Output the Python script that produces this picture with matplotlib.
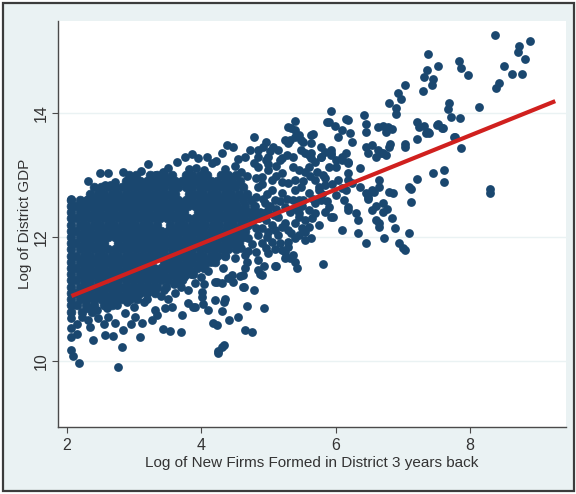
#!/usr/bin/env python3
"""
plot.py - district GDP vs. new firms formed three years earlier (log-log),
scatter of districts with the linear fit drawn over it.

Output: out.png
"""

import matplotlib
matplotlib.use("Agg")
import matplotlib.pyplot as plt
from matplotlib.patches import Rectangle
import numpy as np

# ---------------------------------------------------------------------------
# Data (log new firms, log district GDP)
# ---------------------------------------------------------------------------

# the solid core of the cloud, one list of x per row of log GDP
core_row_gdp = [13.0, 12.9, 12.8, 12.7, 12.6, 12.5, 12.4, 12.3, 12.2, 12.1, 12.0,
                11.9, 11.8, 11.7, 11.6, 11.5, 11.4, 11.3, 11.2, 11.1, 11.0, 10.9, 10.8]
core_row_firms = [
    [2.93, 3.03, 3.24, 3.35, 3.45, 3.56, 3.77, 3.87, 3.98, 4.08, 4.29, 4.40, 4.52],
    [2.88, 2.98, 3.09, 3.19, 3.30, 3.40, 3.51, 3.61, 3.72, 3.82, 3.93, 4.03, 4.14, 4.24, 4.35, 4.46, 4.58],
    [2.40, 2.51, 2.61, 2.72, 2.82, 2.93, 3.03, 3.14, 3.24, 3.35, 3.45, 3.56, 3.66, 3.77, 3.87, 3.98,
     4.08, 4.19, 4.29, 4.40, 4.50, 4.62],
    [2.35, 2.46, 2.56, 2.67, 2.77, 2.88, 2.98, 3.09, 3.19, 3.30, 3.40, 3.51, 3.61, 3.82, 3.93,
     4.03, 4.14, 4.24, 4.35, 4.45, 4.56, 4.68],
    [2.07, 2.19, 2.30, 2.40, 2.51, 2.61, 2.72, 2.82, 2.93, 3.03, 3.14, 3.24, 3.35, 3.45, 3.56, 3.66,
     3.77, 3.87, 3.98, 4.08, 4.19, 4.29, 4.40, 4.50, 4.62, 4.74],
    [2.07, 2.14, 2.24, 2.35, 2.45, 2.56, 2.66, 2.77, 2.87, 2.97, 3.08, 3.18, 3.29, 3.39, 3.49, 3.60,
     3.70, 3.81, 3.91, 4.01, 4.12, 4.22, 4.33, 4.43, 4.54, 4.66, 4.78],
    [2.07, 2.19, 2.29, 2.40, 2.50, 2.61, 2.71, 2.82, 2.92, 3.02, 3.13, 3.23, 3.34, 3.44, 3.54, 3.65,
     3.75, 3.96, 4.06, 4.17, 4.27, 4.38, 4.48, 4.59, 4.70, 4.80],
    [2.07, 2.14, 2.24, 2.35, 2.45, 2.56, 2.66, 2.77, 2.87, 2.97, 3.08, 3.18, 3.29, 3.39, 3.49, 3.60,
     3.70, 3.81, 3.91, 4.01, 4.12, 4.22, 4.33, 4.43, 4.54, 4.64, 4.76],
    [2.07, 2.19, 2.29, 2.40, 2.50, 2.61, 2.71, 2.82, 2.92, 3.02, 3.13, 3.23, 3.34, 3.54, 3.65,
     3.75, 3.86, 3.96, 4.06, 4.17, 4.27, 4.38, 4.48, 4.59, 4.70],
    [2.07, 2.14, 2.25, 2.35, 2.46, 2.56, 2.67, 2.77, 2.88, 2.98, 3.09, 3.19, 3.30, 3.40, 3.51, 3.61,
     3.72, 3.82, 3.93, 4.03, 4.14, 4.24, 4.35, 4.45, 4.56, 4.66],
    [2.07, 2.19, 2.30, 2.40, 2.51, 2.61, 2.72, 2.82, 2.93, 3.03, 3.14, 3.24, 3.35, 3.45, 3.56, 3.66,
     3.77, 3.87, 3.98, 4.08, 4.19, 4.29, 4.40, 4.50, 4.62],
    [2.07, 2.14, 2.25, 2.35, 2.46, 2.56, 2.77, 2.88, 2.98, 3.09, 3.19, 3.30, 3.40, 3.51, 3.61,
     3.72, 3.82, 3.93, 4.03, 4.14, 4.24, 4.35, 4.46, 4.57],
    [2.07, 2.19, 2.30, 2.40, 2.51, 2.61, 2.72, 2.82, 2.93, 3.03, 3.14, 3.24, 3.35, 3.45, 3.56, 3.66,
     3.77, 3.87, 3.98, 4.08, 4.19, 4.29, 4.40, 4.52],
    [2.07, 2.14, 2.25, 2.35, 2.46, 2.56, 2.67, 2.77, 2.88, 2.98, 3.09, 3.19, 3.30, 3.40, 3.51, 3.61,
     3.72, 3.82, 3.93, 4.03, 4.14, 4.24, 4.36],
    [2.07, 2.19, 2.30, 2.40, 2.51, 2.61, 2.72, 2.82, 2.93, 3.03, 3.14, 3.24, 3.45, 3.56, 3.66,
     3.77, 3.87, 3.98, 4.08, 4.20],
    [2.07, 2.14, 2.25, 2.35, 2.46, 2.56, 2.67, 2.77, 2.88, 2.98, 3.09, 3.19, 3.30, 3.40, 3.51, 3.61,
     3.72, 3.82, 3.94, 4.05],
    [2.07, 2.19, 2.30, 2.40, 2.51, 2.61, 2.72, 2.82, 2.93, 3.03, 3.14, 3.24, 3.35, 3.45, 3.56, 3.66,
     3.77, 3.88],
    [2.07, 2.14, 2.25, 2.35, 2.46, 2.56, 2.67, 2.77, 2.88, 2.98, 3.09, 3.19, 3.30, 3.40, 3.51, 3.62, 3.72],
    [2.07, 2.19, 2.30, 2.40, 2.51, 2.61, 2.72, 2.82, 2.93, 3.03, 3.14, 3.24, 3.35, 3.47],
    [2.07, 2.14, 2.25, 2.35, 2.46, 2.56, 2.67, 2.77, 2.88, 2.98, 3.09, 3.20, 3.32],
    [2.07, 2.19, 2.30, 2.40, 2.51, 2.61, 2.72, 2.82, 2.94, 3.05],
    [2.07, 2.16, 2.28, 2.40, 2.55, 2.68],
    [2.07, 2.22, 2.37],
]

# fringe of the core, top and bottom
fringe_points = [
    (2.07, 12.62), (2.30, 12.60), (2.49, 12.56), (2.31, 12.90), (2.49, 13.03), (2.61, 13.03),
    (2.84, 13.05), (2.57, 12.84), (2.64, 12.84), (2.72, 12.89), (2.99, 12.89), (3.21, 13.18),
    (3.31, 13.00), (3.43, 13.05), (3.64, 13.21), (3.76, 13.29), (3.87, 13.33), (3.96, 13.27),
    (4.09, 13.29), (4.16, 13.19), (4.31, 13.35), (4.22, 13.22), (4.39, 13.48), (4.48, 13.45),
    (4.35, 13.10), (4.50, 13.15), (4.60, 13.05), (4.68, 12.98), (4.55, 13.25),
    (3.50, 13.12), (3.92, 13.12), (3.82, 13.10), (4.05, 13.08), (3.10, 13.06),
    (2.07, 10.69), (2.07, 10.53), (2.07, 10.39), (2.07, 10.18), (2.09, 10.08), (2.18, 9.97),
    (2.16, 10.44), (2.39, 10.34), (2.76, 9.90), (2.82, 10.23), (2.57, 10.42), (2.69, 10.40),
    (3.09, 10.39), (2.84, 10.50), (3.43, 10.52), (3.54, 10.48), (3.70, 10.47), (3.72, 10.74),
    (4.18, 10.61), (4.25, 10.13), (4.31, 10.23),
    (2.22, 10.71), (2.31, 10.66), (2.46, 10.69), (2.61, 10.71), (2.72, 10.61), (2.87, 10.77),
    (3.01, 10.71), (3.12, 10.61), (3.27, 10.66), (3.31, 10.82), (3.46, 10.85), (3.57, 10.87),
    (3.61, 11.10), (3.81, 10.94), (3.91, 10.87), (4.01, 11.03), (4.10, 10.82), (4.21, 10.98),
    (4.31, 11.26), (3.91, 11.26), (4.01, 11.11), (4.21, 11.27), (3.88, 10.87), (4.03, 10.92),
    (4.36, 11.00), (4.63, 11.19),
    (4.34, 10.95), (4.31, 10.81), (4.55, 10.71), (4.42, 10.66), (4.66, 10.50), (4.76, 10.47),
    (4.34, 10.26), (4.25, 10.16), (4.24, 10.58), (4.24, 11.27), (4.94, 10.85), (4.78, 11.15),
    (4.64, 11.19), (4.69, 10.89),
    (2.30, 10.85), (2.45, 10.82), (2.60, 10.85), (2.75, 10.90), (2.90, 10.95), (3.00, 10.88),
    (3.15, 10.95), (3.20, 11.00), (3.40, 11.05), (3.50, 11.00), (3.45, 11.15), (3.60, 11.25),
    (3.70, 11.20), (3.80, 11.15), (3.75, 11.35), (3.85, 11.40), (4.00, 11.35), (4.10, 11.45),
    (4.15, 11.60), (4.05, 11.25), (2.15, 10.60), (2.35, 10.55), (2.55, 10.60), (2.95, 10.60),
    (3.35, 10.75),
]

# looser middle part of the cloud
middle_points = [
    (4.79, 13.61), (4.96, 13.53), (5.07, 13.45), (5.25, 13.56), (4.66, 13.29), (4.78, 13.19),
    (4.99, 13.29), (5.18, 13.24), (4.85, 13.40),
    (5.39, 13.87), (5.34, 13.76), (5.30, 13.77), (5.40, 13.61), (5.49, 13.56), (5.64, 13.65),
    (5.40, 13.73), (5.45, 13.65), (5.66, 13.66), (5.51, 13.53), (5.33, 13.56), (5.15, 13.40),
    (5.21, 13.27), (5.28, 13.32), (5.36, 13.29), (5.55, 13.35), (5.63, 13.27), (5.70, 13.21),
    (5.78, 13.29), (5.85, 13.37), (5.93, 13.32), (6.00, 13.24), (6.10, 13.29), (6.19, 13.21),
    (6.37, 13.11), (5.30, 13.52), (5.49, 13.40), (5.64, 13.52), (5.60, 13.32), (5.79, 13.29),
    (5.94, 13.40), (5.90, 13.13), (6.09, 13.24), (6.19, 13.03), (6.15, 13.35),
    (5.87, 13.85), (5.99, 13.79), (6.16, 13.90), (6.09, 13.73), (6.04, 13.61), (6.22, 13.68),
    (6.24, 13.53), (5.94, 14.03), (5.90, 13.85), (6.18, 13.89), (6.42, 13.97), (6.46, 13.82),
    (6.45, 13.69), (6.45, 13.45), (6.49, 13.35), (6.60, 13.29), (6.55, 13.48), (6.63, 13.40),
    (6.67, 13.35), (6.75, 13.32), (6.79, 13.45),
    (4.85, 13.29), (4.96, 13.24), (4.85, 13.13), (5.00, 13.08), (4.91, 12.97), (5.06, 12.92),
    (5.21, 13.03), (5.36, 13.13), (5.45, 13.08), (5.30, 12.87), (5.40, 12.76), (5.21, 12.71),
    (5.10, 12.60), (5.25, 12.48), (5.36, 12.60), (5.00, 12.44), (5.15, 12.32), (4.96, 12.27),
    (5.25, 12.23), (4.81, 12.65), (4.85, 12.81), (5.06, 12.76),
    (6.18, 12.92), (6.25, 12.87), (6.10, 12.79), (6.00, 12.68), (6.12, 12.60), (5.96, 12.32),
    (6.18, 12.44), (6.34, 12.27), (6.55, 12.44), (6.64, 12.23), (6.70, 12.55), (6.48, 12.65),
    (6.64, 12.81),
    (5.81, 13.00), (5.70, 12.92), (5.85, 12.84), (5.75, 12.76), (5.60, 12.71), (5.51, 12.60),
    (5.70, 12.55), (5.60, 12.44), (5.45, 12.39), (5.55, 12.27), (5.40, 12.23),
    (5.40, 12.92), (5.49, 12.81), (5.45, 12.60), (5.75, 12.81), (5.79, 12.60), (6.04, 12.92),
    (6.15, 12.76), (6.19, 12.48), (6.30, 12.39), (5.90, 12.48), (5.70, 12.39), (5.60, 12.16),
    (5.45, 12.32), (5.34, 12.06), (5.55, 11.95), (5.30, 11.84), (6.45, 12.71), (6.54, 12.76),
    (5.60, 13.13), (6.00, 13.13), (6.19, 13.19), (5.78, 13.45), (5.64, 13.35), (5.94, 13.35),
    (4.70, 11.98), (4.85, 12.03), (5.00, 12.08), (5.15, 12.03), (5.30, 11.92), (5.45, 12.03),
    (5.55, 12.08), (4.55, 11.92), (4.66, 11.71), (4.81, 11.76), (4.96, 11.82), (5.21, 11.79),
    (5.36, 11.71), (4.51, 11.66), (4.46, 11.39), (4.33, 11.50), (4.69, 11.60), (4.85, 11.63),
    (5.25, 11.66), (5.40, 11.60), (5.21, 12.16), (5.06, 11.92), (4.36, 11.71),
    (5.64, 11.98), (5.25, 11.76), (5.33, 11.66), (5.00, 11.74), (5.18, 11.90), (5.40, 11.98),
    (4.66, 11.50), (4.63, 11.39), (4.40, 11.34), (4.48, 11.27), (4.58, 11.37), (4.88, 11.40),
    (4.93, 11.53), (5.10, 11.53), (4.91, 11.39), (4.85, 11.47), (5.81, 11.56), (5.43, 11.50),
    (5.12, 11.53),
    (4.90, 12.15), (4.75, 12.25), (4.88, 12.40), (4.95, 12.55), (5.05, 12.20), (4.80, 12.50),
    (4.82, 12.95), (4.90, 12.85), (4.98, 12.70), (4.92, 12.62), (5.02, 12.50), (5.12, 12.45),
    (5.08, 12.35), (4.86, 12.30), (4.94, 12.38), (5.18, 12.58), (5.28, 12.62), (5.32, 12.40),
    (5.20, 12.88), (5.12, 12.98), (5.00, 13.18), (5.12, 13.15), (4.92, 13.45), (5.02, 13.38),
    (4.72, 13.40), (4.82, 12.15), (4.98, 12.00), (5.10, 12.12), (5.30, 12.12), (5.40, 12.45),
    (5.50, 12.50), (5.52, 12.90), (5.62, 12.98), (5.55, 13.05), (5.72, 13.05), (5.66, 12.62),
    (5.80, 12.70), (5.88, 12.58), (5.95, 12.85), (5.85, 12.95), (5.50, 12.15), (5.65, 12.30),
    (5.75, 12.20), (5.85, 12.40), (4.75, 11.88), (4.90, 11.90), (5.10, 11.80), (4.70, 11.78),
    (4.60, 11.82),
]

# sparse districts at the high end
high_points = [
    (8.37, 15.26), (8.90, 15.15), (8.73, 15.08), (8.72, 14.98), (8.82, 14.87), (8.51, 14.76),
    (8.63, 14.63), (8.78, 14.63), (8.43, 14.48), (8.39, 14.40), (8.13, 14.10), (7.37, 14.95),
    (7.52, 14.76), (7.36, 14.69), (7.31, 14.58), (7.45, 14.55), (7.43, 14.45), (7.30, 14.35),
    (7.84, 14.84), (7.87, 14.73), (7.97, 14.61), (7.03, 14.45), (6.93, 14.32), (6.97, 14.23),
    (6.79, 14.16), (6.90, 14.08), (6.90, 13.98), (7.69, 14.16), (7.67, 14.06), (7.72, 13.94),
    (7.85, 13.92), (6.70, 13.79), (6.78, 13.77), (6.84, 13.74), (6.75, 13.69), (7.22, 13.85),
    (7.31, 13.79), (7.37, 13.69), (7.52, 13.82), (7.60, 13.76), (7.21, 13.58), (7.78, 13.61),
    (6.63, 13.77), (6.81, 13.50), (7.03, 13.50),
    (7.24, 13.77), (7.34, 13.68), (7.39, 13.68), (7.51, 13.81), (7.58, 13.76), (7.76, 13.61),
    (7.87, 13.44), (7.61, 13.08), (7.61, 12.89), (7.45, 13.03), (7.22, 12.94), (7.09, 12.81),
    (7.12, 12.78), (7.13, 12.56), (8.30, 12.77), (8.30, 12.71), (7.04, 13.45),
    (6.70, 13.35), (6.85, 12.71), (6.79, 12.73), (6.57, 12.73), (6.49, 12.61), (6.70, 12.40),
    (6.76, 12.45), (6.84, 12.31), (6.88, 12.15), (6.72, 11.98), (6.94, 11.90), (7.09, 12.06),
    (7.01, 11.82), (7.03, 11.79), (6.60, 12.27), (6.64, 12.16), (6.60, 12.50), (5.94, 12.32),
    (6.09, 12.11), (6.34, 12.06), (6.45, 11.90), (6.37, 12.81), (6.64, 12.92),
]

# linear fit as drawn (value at the first x, slope)
fit_x_range = [2.07, 9.27]
fit_y_at_start = 11.05
fit_slope = 0.436

x_ticks = [2, 4, 6, 8]
y_ticks = [10, 12, 14]
x_label = "Log of New Firms Formed in District 3 years back"
y_label = "Log of District GDP"


def main():
    plt.rcParams["font.family"] = ["Liberation Sans Narrow", "Liberation Sans", "DejaVu Sans"]

    core_x = []
    core_y = []
    for row_y, row_x in zip(core_row_gdp, core_row_firms):
        core_x.extend(row_x)
        core_y.extend([row_y] * len(row_x))

    rest = fringe_points + middle_points + high_points
    rest_x = np.array([p[0] for p in rest])
    rest_y = np.array([p[1] for p in rest])

    W, H = 576, 494
    fig = plt.figure(figsize=(W / 100, H / 100), dpi=100)
    fig.patch.set_facecolor("white")

    # stata-like graph region with a frame round it
    fig.patches.append(Rectangle((3 / W, 3 / H), 571 / W, 488 / H, transform=fig.transFigure,
                                 facecolor="#eaf2f3", edgecolor="#3c3c3c", lw=1.6, zorder=-5))

    ax = fig.add_axes([58 / W, (H - 427) / H, (566 - 58) / W, (427 - 21) / H])
    ax.set_facecolor("white")

    navy = "#1a476f"
    ax.scatter(core_x, core_y, s=40, color=navy, edgecolors=navy, linewidths=0.5, zorder=2)
    ax.scatter(rest_x, rest_y, s=40, color=navy, linewidths=0, zorder=2)

    fx = np.array(fit_x_range)
    fy = fit_y_at_start + fit_slope * (fx - fit_x_range[0])
    ax.plot(fx, fy, color="#d0201e", lw=3.0, solid_capstyle="butt", zorder=3)

    ax.set_xlim(1.87, 9.43)
    ax.set_ylim(8.94, 15.48)
    ax.set_xticks(x_ticks)
    ax.set_yticks(y_ticks)
    ax.yaxis.grid(True, color="#eaf2f3", lw=1.0)
    ax.set_axisbelow(True)

    for side in ("top", "right"):
        ax.spines[side].set_visible(False)
    for side in ("left", "bottom"):
        ax.spines[side].set_color("#4a4a4a")
        ax.spines[side].set_linewidth(1.0)

    ax.tick_params(axis="both", length=4, width=0.8, color="#4a4a4a",
                   labelcolor="#333333", labelsize=11.5)
    ax.tick_params(axis="x", pad=4)
    ax.tick_params(axis="y", pad=3, labelrotation=90)
    for lab in ax.get_yticklabels():
        lab.set_verticalalignment("center")

    ax.set_xlabel(x_label, fontsize=11, color="#333333", labelpad=2)
    ax.set_ylabel(y_label, fontsize=11, color="#333333", labelpad=1)

    fig.savefig("out.png", dpi=100)


if __name__ == "__main__":
    main()
